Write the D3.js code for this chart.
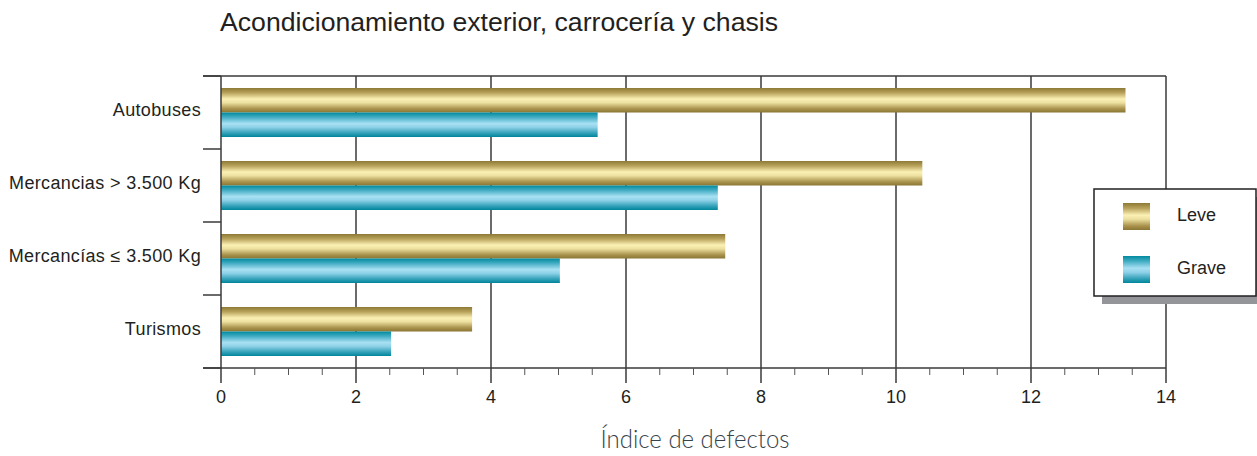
<!DOCTYPE html>
<html>
<head>
<meta charset="utf-8">
<script src="https://cdn.jsdelivr.net/npm/d3@7"></script>
<style>
  html, body { margin: 0; padding: 0; background: #fff; }
  svg { display: block; }
</style>
</head>
<body>
<div id="chart"></div>
<script>
// Vehicle categories, top to bottom
const categories = ["Autobuses", "Mercancias > 3.500 Kg", "Mercancías ≤ 3.500 Kg", "Turismos"];
// Defect index per category
const leve = [13.4, 10.39, 7.47, 3.72];
const grave = [5.58, 7.36, 5.02, 2.52];
const seriesNames = ["Leve", "Grave"];
const xTicks = [0, 2, 4, 6, 8, 10, 12, 14];

const W = 1257, H = 456;
const margin = { left: 221, right: 91, top: 76, bottom: 88 };
const plotW = W - margin.left - margin.right; // 945
const plotH = H - margin.top - margin.bottom; // 292
const labelFont = "Liberation Sans, Arial, Helvetica, sans-serif";

const svg = d3.select("#chart").append("svg")
  .attr("width", W).attr("height", H);

// Metallic gradients for the two series
const defs = svg.append("defs");
function metal(id, stops) {
  const g = defs.append("linearGradient").attr("id", id)
    .attr("x1", 0).attr("y1", 0).attr("x2", 0).attr("y2", 1);
  stops.forEach(([o, c]) => g.append("stop").attr("offset", o).attr("stop-color", c));
}
metal("gold", [[0, "#8d7936"], [0.2, "#b9a35c"], [0.45, "#fbf1b4"], [0.6, "#ede0a0"], [0.85, "#a8924c"], [1, "#8a7634"]]);
metal("teal", [[0, "#008a9f"], [0.2, "#44aec4"], [0.45, "#a8e0f3"], [0.6, "#8fd2e8"], [0.85, "#2f9fb6"], [1, "#00869b"]]);
const fills = ["url(#gold)", "url(#teal)"];

const x = d3.scaleLinear().domain([0, 14]).range([0, plotW]);
const y = d3.scaleBand().domain(categories).range([0, plotH]).paddingInner(0).paddingOuter(0);
const sub = d3.scaleBand().domain(seriesNames).range([12, y.bandwidth() - 12]).padding(0);

const g = svg.append("g").attr("transform", `translate(${margin.left},${margin.top})`);
const lineColor = "#3a3a3a";

// Vertical gridlines at major ticks
g.append("g").selectAll("line")
  .data(xTicks.slice(1, -1))
  .join("line")
  .attr("x1", d => x(d)).attr("x2", d => x(d))
  .attr("y1", 0).attr("y2", plotH)
  .attr("stroke", lineColor).attr("stroke-width", 1.5);

// Bars
const rows = categories.map((c, i) => ({ c, vals: [leve[i], grave[i]] }));
g.append("g").selectAll("g")
  .data(rows)
  .join("g")
  .attr("transform", d => `translate(0,${y(d.c)})`)
  .selectAll("rect")
  .data(d => d.vals.map((v, j) => ({ v, s: seriesNames[j], j })))
  .join("rect")
  .attr("x", 0)
  .attr("y", d => sub(d.s))
  .attr("width", d => x(d.v))
  .attr("height", sub.bandwidth())
  .attr("fill", d => fills[d.j]);

// Frame: top and right borders
g.append("line").attr("x1", -18).attr("x2", plotW).attr("y1", 0).attr("y2", 0)
  .attr("stroke", lineColor).attr("stroke-width", 1.5);
g.append("line").attr("x1", plotW).attr("x2", plotW).attr("y1", 0).attr("y2", plotH)
  .attr("stroke", lineColor).attr("stroke-width", 1.5);

// Left axis: category separators as ticks
const yBounds = d3.range(categories.length + 1).map(i => i * y.step());
g.append("line").attr("x1", 0).attr("x2", 0).attr("y1", 0).attr("y2", plotH)
  .attr("stroke", lineColor).attr("stroke-width", 1.5);
g.append("g").selectAll("line").data(yBounds).join("line")
  .attr("x1", -18).attr("x2", 0).attr("y1", d => d).attr("y2", d => d)
  .attr("stroke", lineColor).attr("stroke-width", 1.5);
g.append("g").selectAll("text").data(categories).join("text")
  .attr("x", -20)
  .attr("y", d => y(d) + y.bandwidth() / 2 - 3)
  .attr("dy", "0.35em")
  .attr("text-anchor", "end")
  .attr("font-family", labelFont)
  .attr("font-size", 18)
  .attr("letter-spacing", 0.35)
  .attr("fill", "#231f20")
  .text(d => d);

// Bottom axis
const xAxis = g.append("g").attr("transform", `translate(0,${plotH})`);
xAxis.append("line").attr("x1", -18).attr("x2", plotW).attr("y1", 0).attr("y2", 0)
  .attr("stroke", lineColor).attr("stroke-width", 1.5);
xAxis.append("g").selectAll("line").data(d3.range(0.5, 14, 0.5).filter(v => v % 2 !== 0)).join("line")
  .attr("x1", d => x(d)).attr("x2", d => x(d)).attr("y1", 0).attr("y2", 7)
  .attr("stroke", "#555").attr("stroke-width", 1);
xAxis.append("g").selectAll("line").data(xTicks).join("line")
  .attr("x1", d => x(d)).attr("x2", d => x(d)).attr("y1", 0).attr("y2", 15)
  .attr("stroke", lineColor).attr("stroke-width", 1.5);
xAxis.append("g").selectAll("text").data(xTicks).join("text")
  .attr("x", d => x(d)).attr("y", 35)
  .attr("text-anchor", "middle")
  .attr("font-family", labelFont)
  .attr("font-size", 18)
  .attr("fill", "#231f20")
  .text(d => d);

// Axis title
svg.append("text")
  .attr("x", 695).attr("y", 448)
  .attr("text-anchor", "middle")
  .attr("font-family", "Lato, 'Open Sans', sans-serif")
  .attr("font-weight", 300)
  .attr("font-size", 26)
  .attr("fill", "#36434b")
  .attr("textLength", 189).attr("lengthAdjust", "spacingAndGlyphs")
  .text("Índice de defectos");

// Title
svg.append("text")
  .attr("x", 220).attr("y", 31)
  .attr("font-family", labelFont)
  .attr("font-size", 25)
  .attr("fill", "#231f20")
  .attr("textLength", 558).attr("lengthAdjust", "spacingAndGlyphs")
  .text("Acondicionamiento exterior, carrocería y chasis");

// Legend with drop shadow
const lg = svg.append("g").attr("transform", "translate(1094,189)");
lg.append("rect").attr("x", 8).attr("y", 8).attr("width", 160).attr("height", 107)
  .attr("fill", "#939598");
lg.append("rect").attr("x", 0).attr("y", 0).attr("width", 162).attr("height", 107)
  .attr("fill", "#fff").attr("stroke", "#231f20").attr("stroke-width", 1.5);
const items = lg.selectAll("g.item").data(seriesNames).join("g")
  .attr("class", "item")
  .attr("transform", (d, i) => `translate(29,${14 + i * 53})`);
items.append("rect").attr("width", 27).attr("height", 27)
  .attr("fill", (d, i) => fills[i]);
items.append("text").attr("x", 54).attr("y", 12).attr("dy", "0.35em")
  .attr("font-family", labelFont)
  .attr("font-size", 18)
  .attr("fill", "#231f20")
  .text(d => d);
</script>
</body>
</html>
